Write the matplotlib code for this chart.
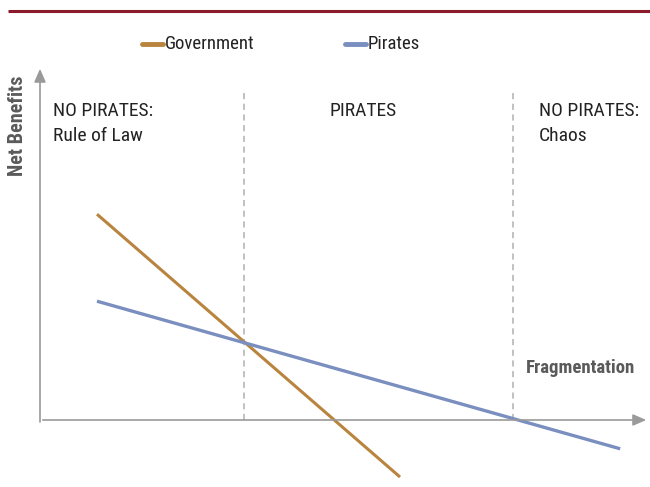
import os
import matplotlib.pyplot as plt
from matplotlib import font_manager

# data (fragmentation on x, net benefits on y)
gov_x = [0.95, 6.0]
gov_y = [3.43, -0.95]
pir_x = [0.95, 9.67]
pir_y = [1.98, -0.48]
regime_bounds = [3.4, 7.88]
region_labels = ["NO PIRATES:\nRule of Law", "PIRATES", "NO PIRATES:\nChaos"]
region_x = [0.22, 4.83, 8.32]


def find_font(keys):
    files = font_manager.findSystemFonts()
    for k in keys:
        for f in files:
            if os.path.basename(f).lower() == k.lower():
                return f
    return None


reg_file = find_font(["RobotoCondensed-Regular.ttf", "LiberationSansNarrow-Regular.ttf",
                      "DejaVuSansCondensed.ttf"])
bold_file = find_font(["RobotoCondensed-Bold.ttf", "LiberationSansNarrow-Bold.ttf",
                       "DejaVuSansCondensed-Bold.ttf"])


def fp(size, bold=False):
    f = bold_file if bold else reg_file
    if f:
        return font_manager.FontProperties(fname=f, size=size)
    return font_manager.FontProperties(family="DejaVu Sans", size=size,
                                       weight='bold' if bold else 'normal', stretch='condensed')


GOLD = "#b8843e"
BLUE = "#7a8fbf"
GREY = "#9a9a9a"
TXT = "#222222"

fig = plt.figure(figsize=(6.5, 4.87), dpi=100)
ax = fig.add_axes([0, 0, 1, 1])
ax.set_xlim(-40 / 60, 610 / 60)
ax.set_ylim(-67 / 60, 420 / 60)
ax.axis('off')

# top rule
ax.plot([-32 / 60, 610 / 60], [409 / 60, 409 / 60], color="#8b1a2b", lw=2.2, solid_capstyle='butt')

# axes with arrows
ax.annotate("", xy=(0, 5.9), xytext=(0, -0.08),
            arrowprops=dict(arrowstyle="-|>,head_width=0.35,head_length=0.8", color=GREY, lw=1.2))
ax.annotate("", xy=(10.15, 0), xytext=(0, 0),
            arrowprops=dict(arrowstyle="-|>,head_width=0.35,head_length=0.8", color=GREY, lw=1.2))

# regime boundaries
for b in regime_bounds:
    ax.plot([b, b], [0, 5.45], color="#b0b0b0", lw=1.1, ls=(0, (4, 3)))

ax.plot(gov_x, gov_y, color=GOLD, lw=2.2, solid_capstyle='butt')
ax.plot(pir_x, pir_y, color=BLUE, lw=2.4, solid_capstyle='butt')

for lab, x in zip(region_labels, region_x):
    ax.text(x, 5.3, lab, ha='left', va='top', fontproperties=fp(14), color=TXT, linespacing=1.5)

ax.text(-0.37, 4.9, "Net Benefits", rotation=90, ha='center', va='center',
        fontproperties=fp(14.5, True), color="#5a5a5a")
ax.text(9.92, 0.86, "Fragmentation", ha='right', va='center',
        fontproperties=fp(13.5, True), color="#5a5a5a")

# legend
leg_y = (420 - 44) / 60
for x0, col, lab in [(142 / 60 - 40 / 60, GOLD, "Government"), (345 / 60 - 40 / 60, BLUE, "Pirates")]:
    ax.plot([x0, x0 + 21 / 60], [leg_y, leg_y], color=col, lw=3.5, solid_capstyle='round')
    ax.text(x0 + 23 / 60, leg_y, lab, ha='left', va='center', fontproperties=fp(13.5), color=TXT)

fig.savefig("out.png", dpi=100)
